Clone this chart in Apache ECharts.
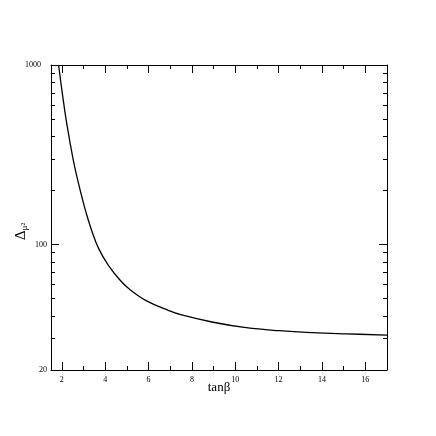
<!DOCTYPE html>
<html>
<head>
    <meta charset="utf-8">
    <title>tanβ</title>
    <script src="https://cdn.jsdelivr.net/npm/echarts@6/dist/echarts.min.js"></script>
    <style type="text/css">
        html, body { margin: 0; padding: 0; background: #ffffff; }
        #chart { width: 436px; height: 436px; }
    </style>
</head>
<body>
<div id="chart"></div>
<script>
    // values
    var tanBeta = [1.85, 2.03, 2.235, 2.51, 2.741, 2.925, 3.123, 3.385, 3.689, 4.148, 4.70, 5.15, 5.91, 6.91, 7.44, 8.98, 10.51, 12.04, 13.57, 15.1, 17];
    var delta = [1000, 684, 465, 303, 226, 184, 150, 119, 95.5, 76.5, 63, 56, 48.5, 43.0, 40.8, 36.9, 34.4, 33.1, 32.3, 31.8, 31.3];

    var xMajor = [2, 4, 6, 8, 10, 12, 14, 16];
    var xMinor = [3, 5, 7, 9, 11, 13, 15];
    var yMajor = [20, 100, 1000];
    var yMinor = [30, 40, 50, 60, 70, 80, 90, 200, 300, 400, 500, 600, 700, 800, 900];

    var points = [];
    for (var i = 0; i < tanBeta.length; i++) {
        points.push([tanBeta[i], delta[i]]);
    }

    var font = 'Liberation Serif';

    // one axis per side and tick size, so major/minor ticks get their own length
    function xAxisOf(pos, ticks, len, main) {
        return {
            type: 'value', position: pos, min: 1.5, max: 17,
            axisLine: { show: main, onZero: false, lineStyle: { color: '#000', width: 1 } },
            axisTick: { show: true, inside: true, length: len, customValues: ticks, lineStyle: { color: '#000' } },
            axisLabel: { show: main && pos === 'bottom', customValues: ticks, margin: 6,
                color: '#000', fontFamily: font, fontSize: 8 },
            splitLine: { show: false }
        };
    }

    function yAxisOf(pos, ticks, len, main) {
        return {
            type: 'log', logBase: 10, position: pos, min: 20, max: 1000,
            axisLine: { show: main, onZero: false, lineStyle: { color: '#000', width: 1 } },
            axisTick: { show: true, inside: true, length: len, customValues: ticks, lineStyle: { color: '#000' } },
            axisLabel: { show: main && pos === 'left', customValues: ticks, margin: 4,
                color: '#000', fontFamily: font, fontSize: 8,
                // the top label sits further from the axis in the reference
                formatter: function (v) { return v === 1000 ? '{k|1000}{g|}' : String(v); },
                rich: { k: { fontFamily: font, fontSize: 8, color: '#000' }, g: { width: 6 } } },
            splitLine: { show: false }
        };
    }

    var xAxes = [
        xAxisOf('bottom', xMajor, 8, true),
        xAxisOf('bottom', xMinor, 4, false),
        xAxisOf('top', xMajor, 8, true),
        xAxisOf('top', xMinor, 4, false)
    ];
    xAxes[0].name = 'tanβ';
    xAxes[0].nameLocation = 'middle';
    xAxes[0].nameGap = 11;
    xAxes[0].nameMoveOverlap = false;
    xAxes[0].nameTextStyle = { color: '#000', fontFamily: font, fontSize: 13 };

    var yAxes = [
        yAxisOf('left', yMajor, 8, true),
        yAxisOf('left', yMinor, 4, false),
        yAxisOf('right', yMajor, 8, true),
        yAxisOf('right', yMinor, 4, false)
    ];
    yAxes[0].name = '{d|Δ}{m|μ²}';
    yAxes[0].nameLocation = 'middle';
    yAxes[0].nameRotate = 90;
    yAxes[0].nameGap = 22;
    yAxes[0].nameMoveOverlap = false;
    yAxes[0].nameTextStyle = {
        color: '#000', fontFamily: font, padding: [0, 28, 0, 0],
        rich: {
            d: { fontFamily: font, fontSize: 15, color: '#000' },
            m: { fontFamily: font, fontSize: 9, color: '#000', verticalAlign: 'bottom' }
        }
    };

    var myChart = echarts.init(document.getElementById('chart'));

    var option = {
        backgroundColor: '#ffffff',
        animation: false,
        grid: { left: 51, right: 49, top: 65, bottom: 66, containLabel: false, outerBoundsMode: 'none' },
        xAxis: xAxes,
        yAxis: yAxes,
        series: [{
            type: 'line',
            xAxisIndex: 0,
            yAxisIndex: 0,
            data: points,
            smooth: 0.4,
            showSymbol: false,
            clip: true,
            lineStyle: { color: '#000', width: 1.3 }
        }]
    };

    myChart.setOption(option);
</script>
</body>
</html>
